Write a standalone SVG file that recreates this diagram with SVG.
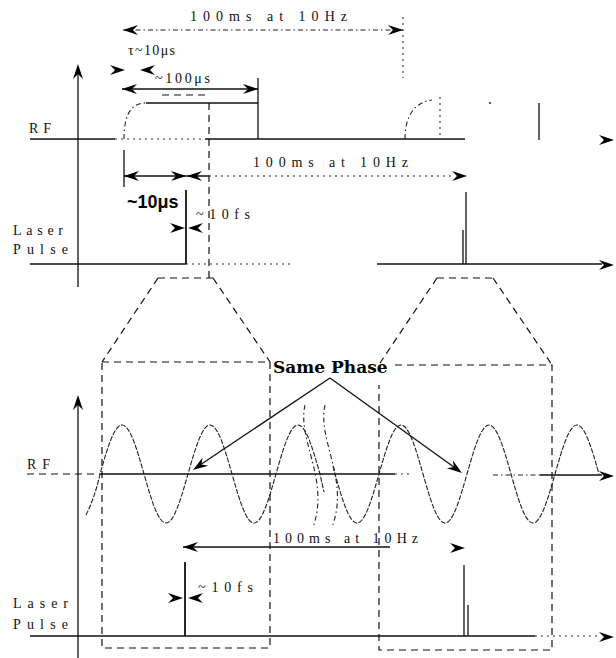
<svg xmlns="http://www.w3.org/2000/svg" xmlns:xlink="http://www.w3.org/1999/xlink" width="616" height="658" viewBox="0 0 616 658">
<defs>
<style>
.ln{stroke:#111;stroke-width:1.3;fill:none}
.th{stroke:#111;stroke-width:1.8;fill:none}
.ds{stroke:#111;stroke-width:1.2;fill:none;stroke-dasharray:7 5}
.dt{stroke:#333;stroke-width:1.1;fill:none;stroke-dasharray:2 4}
.dd{stroke:#222;stroke-width:1.1;fill:none;stroke-dasharray:5 3 1.5 3}
.wv{stroke:#222;stroke-width:1.1;fill:none;stroke-dasharray:5 1.5}
.t{font-family:"Liberation Serif","Times New Roman",serif;font-size:14px;fill:#111}
.b{font-family:"Liberation Sans",Arial,sans-serif;font-weight:bold;font-size:18px;fill:#000}
.sp{font-family:"DejaVu Serif","Liberation Serif",serif;font-weight:bold;font-size:17px;fill:#000}
</style>
<path id="ah" d="M0,0 L-15,-5 L-10,0 L-15,5 Z" fill="#000"/>
</defs>
<rect width="616" height="658" fill="#fff"/>

<g id="top-panel">
  <!-- axis -->
  <line class="ln" x1="78" y1="287" x2="78" y2="70"/>
  <use xlink:href="#ah" href="#ah" transform="translate(78,64) rotate(-90)"/>
  <text class="t" x="29" y="133" textLength="22" lengthAdjust="spacing">RF</text>
  <!-- RF baseline -->
  <line class="ln" x1="30" y1="139" x2="115" y2="139"/>
  <line class="dt" x1="115" y1="139" x2="205" y2="139"/>
  <line class="ln" x1="205" y1="139" x2="465" y2="139"/>
  <use xlink:href="#ah" href="#ah" transform="translate(614,140)"/>
  <!-- RF pulse 1 -->
  <path class="dd" d="M124,139 C124,116 130,103 146,103"/>
  <line class="ln" x1="146" y1="103" x2="258" y2="103"/>
  <line class="ln" x1="258" y1="78" x2="258" y2="139"/>
  <!-- RF pulse 2 -->
  <path class="dd" d="M405,139 C405,117 414,102 432,100"/>
  <line class="dt" x1="440" y1="97" x2="440" y2="135"/>
  <line class="ln" x1="539" y1="103" x2="539" y2="140"/>
  <circle cx="490" cy="103" r="1" fill="#222"/>
  <!-- dashed marker line -->
  <line class="ds" x1="209" y1="103" x2="209" y2="280"/>
  <!-- 100ms top dimension -->
  <line class="dd" x1="123" y1="30" x2="403" y2="30"/>
  <use xlink:href="#ah" href="#ah" transform="translate(123,30) rotate(180)"/>
  <use xlink:href="#ah" href="#ah" transform="translate(403,30)"/>
  <line class="dt" x1="403" y1="17" x2="403" y2="78"/>
  <text class="t" x="190" y="21" textLength="157" lengthAdjust="spacing">100ms at 10Hz</text>
  <!-- tau -->
  <text class="t" x="128" y="55" textLength="47" lengthAdjust="spacing">τ~10μs</text>
  <use xlink:href="#ah" href="#ah" transform="translate(125,70)"/>
  <use xlink:href="#ah" href="#ah" transform="translate(140,70) rotate(180)"/>
  <!-- 100us -->
  <text class="t" x="155" y="83" textLength="55" lengthAdjust="spacing">~100μs</text>
  <line class="ln" x1="122" y1="89" x2="258" y2="89"/>
  <use xlink:href="#ah" href="#ah" transform="translate(122,89) rotate(180)"/>
  <use xlink:href="#ah" href="#ah" transform="translate(258,89)"/>
  <line class="ds" x1="162" y1="95" x2="205" y2="95"/>
  <!-- ~10us dimension -->
  <line class="ln" x1="124" y1="150" x2="124" y2="187"/>
  <line class="ln" x1="124" y1="176" x2="209" y2="176"/>
  <use xlink:href="#ah" href="#ah" transform="translate(124,176) rotate(180)"/>
  <use xlink:href="#ah" href="#ah" transform="translate(186,176)"/>
  <use xlink:href="#ah" href="#ah" transform="translate(187,176) rotate(180)"/>
  <text class="b" x="127" y="208">~10μs</text>
  <!-- second 100ms -->
  <line class="dt" x1="209" y1="176" x2="455" y2="176"/>
  <use xlink:href="#ah" href="#ah" transform="translate(467,176)"/>
  <text class="t" x="253" y="167" textLength="155" lengthAdjust="spacing">100ms at 10Hz</text>
  <!-- laser -->
  <text class="t" x="13" y="235" textLength="50" lengthAdjust="spacing">Laser</text>
  <text class="t" x="13" y="254" textLength="55" lengthAdjust="spacing">Pulse</text>
  <line class="ln" x1="30" y1="264" x2="186" y2="264"/>
  <line class="dt" x1="186" y1="264" x2="290" y2="264"/>
  <line class="ln" x1="377" y1="264" x2="602" y2="264"/>
  <use xlink:href="#ah" href="#ah" transform="translate(614,265)"/>
  <line class="th" x1="186" y1="190" x2="186" y2="264"/>
  <use xlink:href="#ah" href="#ah" transform="translate(185,228)"/>
  <use xlink:href="#ah" href="#ah" transform="translate(188,228) rotate(180)"/>
  <text class="t" x="196" y="219" textLength="54" lengthAdjust="spacing">~10fs</text>
  <line class="ln" x1="466" y1="192" x2="466" y2="264"/>
  <line class="ln" x1="463" y1="230" x2="463" y2="264"/>
</g>

<g id="zoom-frames">
  <path class="ds" d="M158,278 L213,278 M158,278 L102,362 M213,278 L270,362"/>
  <rect class="ds" x="102" y="362" width="168" height="286"/>
  <path class="ds" d="M437,278 L493,278 M437,278 L380,363 M493,278 L552,365"/>
  <path class="ds" d="M395,365 L552,365 L552,650 L379,650 L379,385"/>
</g>

<g id="bottom-panel">
  <line class="ln" x1="78" y1="658" x2="78" y2="402"/>
  <use xlink:href="#ah" href="#ah" transform="translate(78,395) rotate(-90)"/>
  <text class="t" x="27" y="469" textLength="23" lengthAdjust="spacing">RF</text>
  <line class="ds" x1="27" y1="474" x2="100" y2="474"/>
  <line class="ln" x1="100" y1="474" x2="395" y2="474"/>
  <line class="dt" x1="395" y1="474" x2="412" y2="474"/>
  <line class="dd" x1="493" y1="475" x2="540" y2="475"/>
  <line class="ln" x1="540" y1="475" x2="602" y2="475"/>
  <use xlink:href="#ah" href="#ah" transform="translate(614,476)"/>
  <!-- RF waves -->
  <path class="wv" d="M86,515 Q95,497 100,474 C107.18,448.9 114.04,425 122,425 S136.82,448.9 144,474 S158.04,523 166,523 S180.82,499.1 188,474 S202.04,425 210,425 S224.82,448.9 232,474 S246.04,523 254,523 S268.82,499.1 276,474 S290.04,425 298,425 S312.82,448.9 320,474 L324,492"/>
  <path class="wv" d="M333,466 L335,474 C342.18,499.1 349.04,523 357,523 S371.82,499.1 379,474 S393.04,425 401,425 S415.82,448.9 423,474 S437.04,523 445,523 S459.82,499.1 467,474 S481.04,425 489,425 S503.82,448.9 511,474 S525.04,523 533,523 S547.82,499.1 555,474 S569.04,425 577,425 S591.82,448.9 599,474"/>
  <!-- break marks -->
  <path class="dd" d="M305,405 C297,440 330,480 313,527"/>
  <path class="dd" d="M325,405 C317,440 350,480 332,527"/>
  <!-- Same Phase -->
  <text class="sp" x="273" y="373">Same Phase</text>
  <line class="ln" x1="330" y1="378" x2="197" y2="467"/>
  <use xlink:href="#ah" href="#ah" transform="translate(193,470) rotate(146)"/>
  <line class="ln" x1="330" y1="378" x2="458" y2="470"/>
  <use xlink:href="#ah" href="#ah" transform="translate(462,473) rotate(36)"/>
  <!-- 100ms -->
  <line class="ln" x1="183" y1="547" x2="390" y2="547"/>
  <use xlink:href="#ah" href="#ah" transform="translate(183,547) rotate(180)"/>
  <use xlink:href="#ah" href="#ah" transform="translate(465,548)"/>
  <text class="t" x="273" y="543" textLength="145" lengthAdjust="spacing">100ms at 10Hz</text>
  <!-- laser -->
  <text class="t" x="13" y="608" textLength="55" lengthAdjust="spacing">Laser</text>
  <text class="t" x="13" y="629" textLength="55" lengthAdjust="spacing">Pulse</text>
  <line class="ln" x1="30" y1="636" x2="535" y2="636"/>
  <line class="dt" x1="535" y1="636" x2="600" y2="636"/>
  <use xlink:href="#ah" href="#ah" transform="translate(614,637)"/>
  <line class="th" x1="185" y1="562" x2="185" y2="636"/>
  <use xlink:href="#ah" href="#ah" transform="translate(183,598)"/>
  <use xlink:href="#ah" href="#ah" transform="translate(188,598) rotate(180)"/>
  <text class="t" x="198" y="592" textLength="55" lengthAdjust="spacing">~10fs</text>
  <line class="ln" x1="464" y1="565" x2="464" y2="636"/>
  <line class="ln" x1="468" y1="605" x2="468" y2="636"/>
</g>
</svg>
